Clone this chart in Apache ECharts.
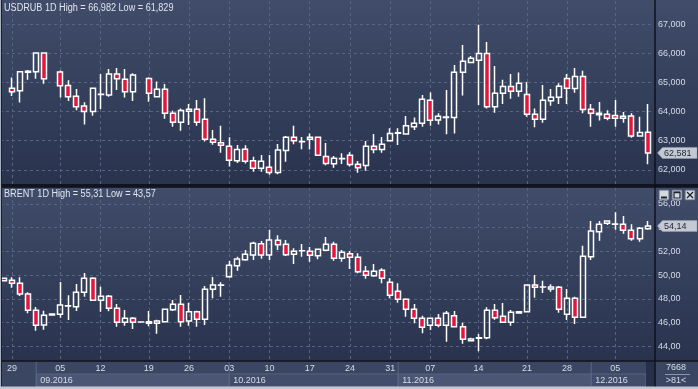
<!DOCTYPE html>
<html><head><meta charset="utf-8">
<script src="https://cdn.jsdelivr.net/npm/echarts/dist/echarts.min.js"></script>
<style>html,body{margin:0;padding:0;background:#2f3a55;overflow:hidden}#c{width:698px;height:389px}</style>
</head><body><div id="c"></div>
<script>
// ---- categories (trading slots) ----
const dates = ['2016-08-26','2016-08-29','2016-08-30','2016-08-31','2016-09-01','2016-09-02','2016-09-04','2016-09-05','2016-09-06','2016-09-07','2016-09-08','2016-09-09','2016-09-12','2016-09-13','2016-09-14','2016-09-15','2016-09-16','2016-09-18','2016-09-19','2016-09-20','2016-09-21','2016-09-22','2016-09-23','2016-09-26','2016-09-27','2016-09-28','2016-09-29','2016-09-30','2016-10-03','2016-10-04','2016-10-05','2016-10-06','2016-10-07','2016-10-10','2016-10-11','2016-10-12','2016-10-13','2016-10-14','2016-10-17','2016-10-18','2016-10-19','2016-10-20','2016-10-21','2016-10-24','2016-10-25','2016-10-26','2016-10-27','2016-10-28','2016-10-31','2016-11-01','2016-11-02','2016-11-03','2016-11-04','2016-11-07','2016-11-08','2016-11-09','2016-11-10','2016-11-11','2016-11-13','2016-11-14','2016-11-15','2016-11-16','2016-11-17','2016-11-18','2016-11-20','2016-11-21','2016-11-22','2016-11-23','2016-11-24','2016-11-25','2016-11-28','2016-11-29','2016-11-30','2016-12-01','2016-12-02','2016-12-04','2016-12-05','2016-12-06','2016-12-07','2016-12-08','2016-12-09'];
// ---- tick labels ----
const weekTicks = ['2016-08-29','2016-09-05','2016-09-12','2016-09-19','2016-09-26','2016-10-03','2016-10-10','2016-10-17','2016-10-24','2016-10-31','2016-11-07','2016-11-14','2016-11-21','2016-11-28','2016-12-05'];
const monthStarts = ['2016-09-01','2016-10-03','2016-11-01','2016-12-01'];
const monthLabels = ['09.2016','10.2016','11.2016','12.2016'];
const usdrubTicks = [62, 63, 64, 65, 66, 67];
const brentTicks = [44, 46, 48, 50, 52, 54, 56];
// ---- series values [open, high, low, close] ----
const usdrub = [null,
[64.80,65.17,64.54,64.68],[64.72,65.39,64.31,65.37],[65.35,65.43,65.09,65.39],[65.37,66.02,65.13,66.01],[66.01,66.03,64.96,65.13],null,
[65.36,65.41,64.48,64.89],[64.90,65.08,64.36,64.51],[64.53,64.78,64.05,64.17],[64.19,64.32,63.56,64.00],[64.00,64.81,63.86,64.80],
[64.59,65.29,64.09,64.60],[64.57,65.46,64.51,65.29],[65.29,65.50,64.74,65.13],[65.11,65.46,64.48,64.68],[64.68,65.32,64.36,65.26],null,
[65.14,65.18,64.34,64.63],[64.51,65.03,64.48,64.77],[64.77,64.95,63.75,63.94],[63.94,64.03,63.48,63.63],[63.63,64.11,63.34,64.04],
[64.01,64.26,63.54,64.08],[64.08,64.40,63.51,63.63],[63.74,64.46,62.97,63.05],[63.05,63.37,62.86,62.95],[62.93,63.51,62.59,62.84],
[62.81,63.12,62.11,62.33],[62.31,62.85,62.23,62.70],[62.71,62.84,62.22,62.29],[62.31,62.45,61.93,62.05],[62.05,62.51,61.93,62.29],
[62.09,62.51,61.829,61.91],[61.91,62.89,61.85,62.68],[62.66,63.16,62.28,63.12],[63.12,63.51,62.88,63.00],[62.96,63.13,62.71,62.97],
[63.05,63.25,62.70,63.12],[63.12,63.13,62.49,62.50],[62.46,62.92,62.16,62.22],[62.21,62.47,62.07,62.40],[62.38,62.57,62.20,62.39],
[62.50,62.60,62.11,62.18],[62.19,62.30,61.90,62.07],[62.15,62.99,61.97,62.81],[62.81,63.23,62.57,62.70],[62.70,63.13,62.59,62.88],
[63.00,63.43,62.97,63.25],[63.26,63.43,62.85,63.27],[63.23,63.85,63.20,63.51],[63.48,63.80,63.37,63.60],[63.60,64.57,63.48,64.42],
[64.39,64.66,63.51,63.70],[63.71,63.94,63.56,63.84],[63.80,64.74,63.22,63.81],[63.80,65.60,63.25,65.35],[65.35,66.29,64.55,65.73],
[65.69,65.91,65.66,65.83],[65.76,66.982,64.23,66.00],[66.00,66.39,64.11,64.17],[64.17,65.57,63.96,64.63],[64.63,65.09,64.26,64.86],
[64.86,65.29,64.44,64.70],[64.70,65.34,64.51,64.97],[64.59,65.02,63.82,63.91],[63.91,64.11,63.46,63.74],[63.74,64.91,63.62,64.39],
[64.37,64.78,64.20,64.49],[64.49,64.97,64.26,64.87],[65.14,65.29,64.26,64.80],[64.79,65.50,64.65,65.21],[65.21,65.40,63.94,64.07],
[64.08,64.26,63.48,63.94],[63.89,64.33,63.69,63.94],[63.91,64.05,63.70,63.77],[63.87,64.40,63.48,63.77],[63.77,63.99,63.62,63.84],
[63.85,63.94,63.10,63.16],[63.16,63.82,63.14,63.28],[63.29,64.26,62.19,62.581]];
const brent = [
[49.73,49.80,49.45,49.53],[49.56,49.81,48.94,49.31],[49.31,49.81,48.24,48.41],[48.41,48.55,46.78,47.03],[47.03,47.31,45.31,45.76],
[45.79,47.00,45.39,46.61],[46.63,46.75,46.60,46.72],[46.69,49.42,46.41,47.48],[47.39,48.30,46.21,47.42],[47.33,49.25,46.97,48.55],
[48.55,50.18,48.18,49.73],[49.73,49.81,47.81,47.87],[47.87,49.02,46.91,48.21],[48.21,48.32,46.94,47.20],[47.20,47.56,45.65,46.02],
[46.02,47.05,45.73,46.35],[46.35,46.46,45.45,46.02],[46.04,46.06,46.02,46.05],[45.93,46.97,45.68,46.07],[45.93,46.24,45.05,46.13],
[46.07,47.13,46.05,47.11],[47.08,47.90,46.97,47.54],[47.54,48.32,45.65,46.07],[46.13,47.67,45.73,46.91],[46.91,47.00,45.65,46.27],
[46.27,49.08,45.79,48.80],[48.80,49.84,48.04,49.16],[49.15,49.39,48.18,49.17],[49.87,51.19,49.78,50.83],[50.79,51.55,50.37,51.36],
[51.30,52.12,51.21,51.76],[51.70,52.82,51.27,52.68],[52.65,52.88,51.38,51.70],[51.70,53.83,51.27,52.96],[52.94,53.36,52.12,52.57],
[52.60,52.96,51.61,51.72],[51.76,52.26,50.94,52.01],[52.05,52.62,51.55,52.06],[52.01,52.37,51.13,51.67],[51.64,52.18,51.33,52.18],
[52.09,53.22,52.09,52.60],[52.60,52.82,51.21,51.42],[51.42,52.12,51.13,51.92],[51.81,52.03,50.51,51.50],[51.50,51.84,50.15,50.29],
[50.32,50.77,49.70,49.98],[49.95,50.94,49.87,50.32],[50.40,50.57,49.31,49.73],[49.39,49.73,48.04,48.30],[48.63,49.31,47.67,47.96],
[47.96,48.04,46.49,47.11],[47.11,47.56,45.93,46.35],[46.35,46.57,45.09,45.60],[45.76,46.36,45.37,46.35],[46.35,46.72,45.60,45.76],
[45.76,46.97,44.38,46.78],[46.57,46.97,45.60,45.65],[45.65,45.98,44.21,44.58],[44.46,44.72,44.44,44.61],[44.68,45.03,43.57,44.72],
[44.72,47.28,44.58,47.03],[47.03,47.56,46.24,46.40],[46.52,47.65,45.98,46.02],[46.02,47.05,45.73,46.86],[46.80,46.93,46.75,46.91],
[46.91,49.18,46.88,49.16],[49.16,50.01,48.09,48.97],[48.99,49.53,48.49,49.00],[48.83,49.22,48.60,49.00],[48.97,49.08,46.83,47.11],
[46.69,48.83,46.21,48.04],[48.04,48.18,45.87,46.44],[46.44,52.48,46.40,51.59],[51.55,54.57,51.27,53.72],[53.66,54.57,52.90,54.29],
[54.37,54.60,54.23,54.57],[54.30,55.31,53.83,54.31],[54.29,54.99,53.49,53.78],[53.78,54.29,52.90,53.07],[53.07,54.06,52.82,53.95],
[53.92,54.57,53.83,54.14]];

const FONT = "'Liberation Sans', Arial, sans-serif";
const TXT = '#d5dce8';
const GRID = '#586481';
const UP_FILL = 'rgba(0,0,0,0)';
const DOWN_FILL = '#e3173e';
const weekSet = new Set(weekTicks);
const toEC = r => r ? [r[0], r[3], r[2], r[1]] : ['-', '-', '-', '-'];
const valid = a => a.filter(r => r);
const hiOf = a => Math.max(...valid(a).map(r => r[1]));
const loOf = a => Math.min(...valid(a).map(r => r[2]));
const fmt = (v, d) => v.toFixed(d).replace('.', ',');

const xAxisBase = (gi, showLabel) => ({
  type: 'category', gridIndex: gi, data: dates, boundaryGap: true,
  axisLine: {show: false}, axisTick: {show: false},
  axisLabel: {show: showLabel, interval: (i, v) => weekSet.has(v), formatter: v => v.slice(8, 10),
    color: TXT, fontSize: 9, fontFamily: FONT, margin: 4},
  splitLine: {show: true, alignWithLabel: true, interval: (i, v) => weekSet.has(v),
    lineStyle: {color: GRID, type: [3, 3], width: 1}}
});
const yAxisBase = (gi, min, max, split, dec, ticks) => ({
  type: 'value', gridIndex: gi, position: 'right', offset: 3.5, min, max, splitNumber: split, scale: true,
  axisLine: {show: false}, axisTick: {show: false},
  axisLabel: {showMinLabel: false, showMaxLabel: false, color: TXT, fontSize: 9, fontFamily: FONT, margin: 3,
    formatter: v => ticks.some(t => Math.abs(t - v) < 1e-6) ? fmt(v, dec) : ''},
  splitLine: {show: true, showMinLine: false, showMaxLine: false, lineStyle: {color: GRID, type: [3, 3], width: 1}}
});
const candleStyle = {color: UP_FILL, color0: DOWN_FILL, borderColor: '#ffffff', borderColor0: '#ffffff', borderColorDoji: '#ffffff', borderWidth: 1.5};

const chart = echarts.init(document.getElementById('c'), null, {renderer: 'canvas'});
chart.setOption({
  animation: false,
  backgroundColor: '#2f3a55',
  grid: [
    {left: -1.73, width: 653.3, top: 1, height: 183},
    {left: -1.73, width: 653.3, top: 188, height: 172}
  ],
  xAxis: [xAxisBase(0, false), xAxisBase(1, true)],
  yAxis: [yAxisBase(0, 61.512, 67.80, 6, 3, usdrubTicks), yAxisBase(1, 42.835, 57.35, 7, 2, brentTicks)],
  series: [
    {type: 'candlestick', name: 'USDRUB', xAxisIndex: 0, yAxisIndex: 0, data: usdrub.map(toEC), barWidth: 5.5, clip: true, itemStyle: candleStyle},
    {type: 'candlestick', name: 'BRENT', xAxisIndex: 1, yAxisIndex: 1, data: brent.map(toEC), barWidth: 5.5, clip: true, itemStyle: candleStyle}
  ]
});

function panelGrad(c0, c1) {
  return new echarts.graphic.LinearGradient(0, 0, 0, 1, [{offset: 0, color: c0}, {offset: 1, color: c1}]);
}
const els = [];
const R = (x, y, w, h, fill, z, extra) => els.push(Object.assign({type: 'rect', shape: {x, y, width: w, height: h}, style: {fill}, z: z, silent: true}, extra || {}));
const L = (x1, y1, x2, y2, stroke, lw, z) => els.push({type: 'line', shape: {x1, y1, x2, y2}, style: {stroke, lineWidth: lw || 1}, z: z || 50, silent: true});
const T = (x, y, text, opts) => els.push(Object.assign({type: 'text', x, y, z: 60, silent: true,
  style: Object.assign({text, fill: TXT, font: '9px ' + FONT, textVerticalAlign: 'middle'}, (opts && opts.style) || {})}, (opts && opts.el) || {}));

// panels
R(0, 0, 698, 184, panelGrad('#404c69', '#29334e'), -10);
R(0, 184, 698, 3.5, '#151b28', -9);
R(0, 187.5, 698, 173, panelGrad('#404c69', '#29334e'), -10);
R(0, 360.5, 698, 26, '#3b4762', -10);
L(0, 361, 698, 361, '#0e121b', 1.5);
L(655, 0, 655, 387, '#0e121b', 1.5);
L(0, 185, 698, 185, '#0a0e16', 1);
L(0, 187, 698, 187, '#0a0e16', 1);
// month row
const xb = d => chart.convertToPixel({xAxisIndex: 1}, d);
R(646, 361.5, 8.5, 25, '#26304a', 40);
monthStarts.forEach((d, k) => {
  const x0 = xb(d);
  const x1 = k < monthStarts.length - 1 ? xb(monthStarts[k + 1]) : 646;
  R(x0, 374, x1 - x0, 12.5, k % 2 === 0 ? '#4a5674' : '#414d6a', 20, {style: {fill: k % 2 === 0 ? '#4a5674' : '#414d6a', stroke: '#56627f', lineWidth: 1}});
  L(x0, 361.5, x0, 386.5, '#5a6684', 1, 45);
  T(x0 + 4, 380.5, monthLabels[k]);
});
// right bottom box
T(676, 368, '7668', {style: {textAlign: 'center'}});
L(665, 374.5, 690, 374.5, '#8a94aa', 1);
T(676, 381, '>81<', {style: {textAlign: 'center'}});
// frame
L(0.5, 0, 0.5, 389, '#a9b0bd', 1, 70);
L(1.5, 0, 1.5, 389, '#1a2030', 1, 70);
R(0, 386.5, 698, 2.5, '#c3c7cf', 70);
// titles
const t1 = 'USDRUB 1D High = ' + fmt(hiOf(usdrub), 3) + ' Low = ' + fmt(loOf(usdrub), 3);
const t2 = 'BRENT 1D High = ' + fmt(hiOf(brent), 2) + ' Low = ' + fmt(loOf(brent), 2);
T(4, 8.5, t1, {style: {font: '10px ' + FONT, fill: '#dfe5ef'}, el: {scaleX: 0.91}});
T(4, 194.5, t2, {style: {font: '10px ' + FONT, fill: '#dfe5ef'}, el: {scaleX: 0.91}});
// last price boxes
function priceBox(yAxisIndex, v, dec) {
  const y = chart.convertToPixel({yAxisIndex}, v);
  els.push({type: 'polygon', z: 80, silent: true,
    shape: {points: [[657.5, y], [662.5, y - 5.5], [697, y - 5.5], [697, y + 5.5], [662.5, y + 5.5]]},
    style: {fill: '#c4c9d2', stroke: '#9aa2b1', lineWidth: 0.5}});
  els.push({type: 'text', x: 664, y: y + 0.5, z: 81, silent: true,
    style: {text: fmt(v, dec), fill: '#1d2435', font: '9px ' + FONT, textVerticalAlign: 'middle'}});
}
priceBox(0, usdrub[usdrub.length - 1][3], 3);
priceBox(1, brent[brent.length - 1][3], 2);
// window buttons
[659, 672, 685].forEach((x, k) => {
  R(x, 190, 10, 10, '#d4d8df', 90, {style: {fill: '#d4d8df', stroke: '#5b6275', lineWidth: 1}});
  if (k === 0) R(x + 2, 196.5, 6, 2, '#1c2230', 91);
  if (k === 1) { els.push({type: 'rect', z: 91, silent: true, shape: {x: x + 2, y: 192, width: 6, height: 6}, style: {fill: 'none', stroke: '#1c2230', lineWidth: 1.2}}); L(x + 2, 192.5, x + 8, 192.5, '#1c2230', 1.5, 92); }
  if (k === 2) { L(x + 2, 192, x + 8, 198, '#1c2230', 1.3, 91); L(x + 8, 192, x + 2, 198, '#1c2230', 1.3, 91); }
});
chart.setOption({graphic: {elements: els}});
</script></body></html>
